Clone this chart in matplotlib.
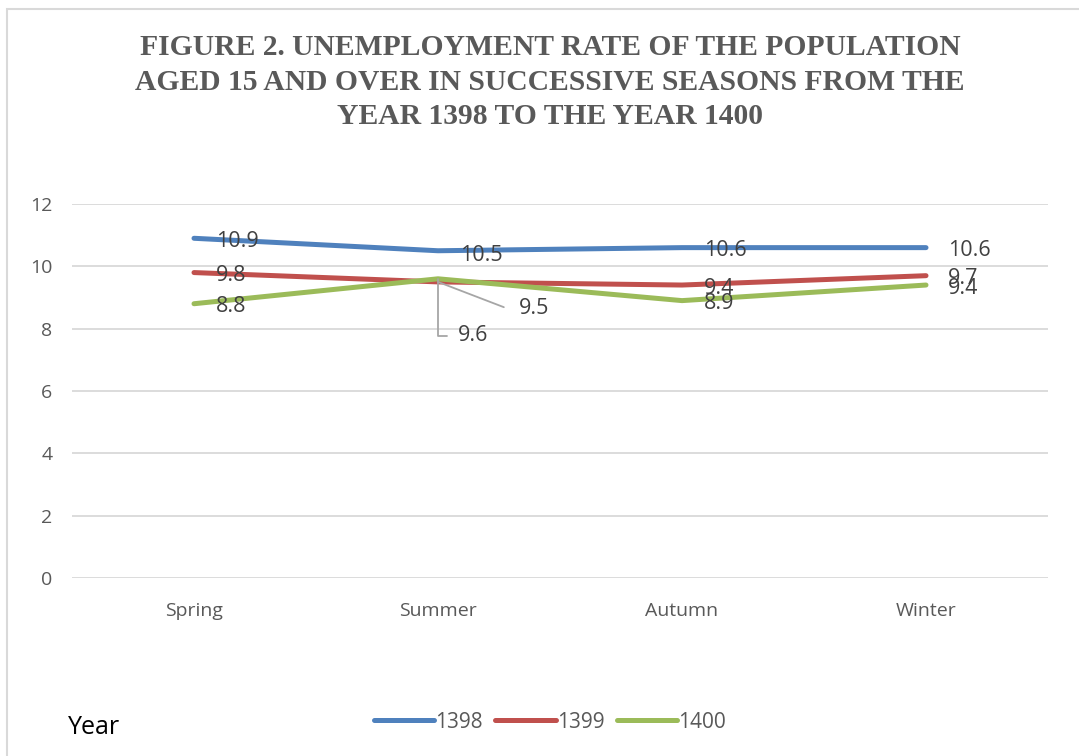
import matplotlib.pyplot as plt
from matplotlib.patches import Rectangle

seasons = ["Spring", "Summer", "Autumn", "Winter"]
years = ["1398", "1399", "1400"]
rate_1398 = [10.9, 10.5, 10.6, 10.6]
rate_1399 = [9.8, 9.5, 9.4, 9.7]
rate_1400 = [8.8, 9.6, 8.9, 9.4]
y_ticks = [0, 2, 4, 6, 8, 10, 12]

colors = ["#4F81BD", "#C0504D", "#9BBB59"]
series = [rate_1398, rate_1399, rate_1400]

label_font = "Open Sans"
label_color = "#404040"

fig = plt.figure(figsize=(10.79, 7.56), dpi=100)
fig.patches.append(Rectangle((7 / 1079, -0.1), 1.2, (756 - 9) / 756 + 0.1,
                             transform=fig.transFigure, fill=False,
                             edgecolor="#D9D9D9", linewidth=1.5))

ax = fig.add_axes([72 / 1079, (756 - 578) / 756, 976 / 1079, 374 / 756])
x = list(range(len(seasons)))

for vals, col, name in zip(series, colors, years):
    ax.plot(x, vals, color=col, linewidth=3.6, solid_capstyle="round",
            label=name, zorder=3)

# data labels, placed to the right of each point
for si, vals in enumerate(series):
    for i, v in enumerate(vals):
        if i == 1 and si == 1:
            ax.annotate(f"{v:g}", (i, v), xytext=(81, -27),
                        textcoords="offset pixels", ha="left", va="center",
                        fontsize=15.5, family=label_font, color=label_color,
                        arrowprops=dict(arrowstyle="-", color="#A6A6A6", lw=1.3,
                                        relpos=(0, 0.5), shrinkA=9, shrinkB=0,
                                        connectionstyle="angle,angleA=0,angleB=-21"))
        elif i == 1 and si == 2:
            ax.annotate(f"{v:g}", (i, v), xytext=(20, -57),
                        textcoords="offset pixels", ha="left", va="center",
                        fontsize=15.5, family=label_font, color=label_color,
                        arrowprops=dict(arrowstyle="-", color="#A6A6A6", lw=1.3,
                                        relpos=(0, 0.5), shrinkA=6, shrinkB=0,
                                        connectionstyle="angle,angleA=0,angleB=90"))
        else:
            dy = -5 if i == 1 else -3
            ax.annotate(f"{v:g}", (i, v), xytext=(22, dy),
                        textcoords="offset pixels", ha="left", va="center",
                        fontsize=15.5, family=label_font, color=label_color,
                        zorder=4)

ax.set_xlim(-0.5, len(seasons) - 0.5)
ax.set_ylim(0, 12)
ax.set_yticks(y_ticks)
ax.set_xticks(x)
ax.set_xticklabels(seasons)
ax.grid(axis="y", color="#D9D9D9", linewidth=1.3)
ax.set_axisbelow(True)
for s in ax.spines.values():
    s.set_visible(False)
ax.tick_params(length=0, labelsize=14, labelcolor="#595959", pad=14)
ax.tick_params(axis="x", pad=17)
for lab in ax.get_xticklabels() + ax.get_yticklabels():
    lab.set_family(label_font)

fig.text(550 / 1079, 1 - 82 / 756,
         "FIGURE 2. UNEMPLOYMENT RATE OF THE POPULATION\n"
         "AGED 15 AND OVER IN SUCCESSIVE SEASONS FROM THE\n"
         "YEAR 1398 TO THE YEAR 1400",
         ha="center", va="center", family="Liberation Serif", weight="bold",
         fontsize=21.3, color="#595959", linespacing=1.37)

fig.text(68 / 1079, 1 - 728 / 756, "Year", ha="left", va="center",
         family=label_font, fontsize=18, color="black")

fig.legend(loc="center", bbox_to_anchor=(550 / 1079, 1 - 722 / 756), ncol=3,
           frameon=False, handlelength=2.9, handletextpad=0.05, columnspacing=0.6,
           prop={"family": label_font, "size": 15}, labelcolor="#595959")

fig.savefig("out.png", dpi=100)
